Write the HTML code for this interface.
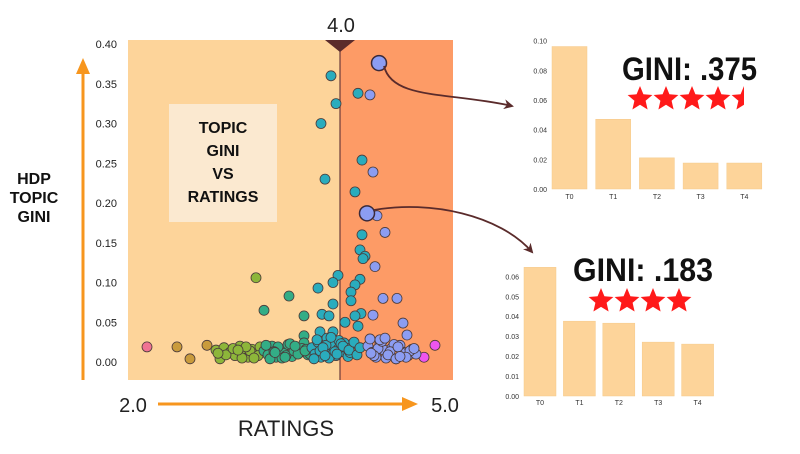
<!DOCTYPE html>
<html><head><meta charset="utf-8"><style>
html,body{margin:0;padding:0;background:#fff;width:800px;height:454px;overflow:hidden}
svg{display:block;font-family:"Liberation Sans",sans-serif}
</style></head><body>
<svg id="c" width="800" height="454" viewBox="0 0 800 454">
<defs>
<marker id="ah" markerWidth="10" markerHeight="10" refX="8" refY="5" orient="auto" markerUnits="userSpaceOnUse"><path d="M0,0 L10,5 L0,10 L3,5 z" fill="#5a2b2b"/></marker>
<marker id="oa" markerWidth="16" markerHeight="16" refX="8" refY="8" orient="auto" markerUnits="userSpaceOnUse"><path d="M0,1 L16,8 L0,15 z" fill="#f7961e"/></marker>
</defs>
<g id="main">
<rect x="128" y="40" width="212" height="340" fill="#fdd49a"/>
<rect x="340" y="40" width="113" height="340" fill="#fd9b66"/>
<line x1="340" y1="40" x2="340" y2="380" stroke="#6b3b3b" stroke-width="1.2"/>
<path d="M325,40 L355,40 L340,52 z" fill="#5a2b2b"/>
<text x="341" y="32" font-size="20" text-anchor="middle" fill="#222">4.0</text>
<rect x="169" y="104" width="108" height="118" fill="#fbe9d0"/>
<g font-size="16" font-weight="bold" text-anchor="middle" fill="#111">
<text x="223" y="133">TOPIC</text><text x="223" y="156">GINI</text><text x="223" y="179">VS</text><text x="223" y="202">RATINGS</text></g>
</g>
<g id="yticks" font-size="11" fill="#222" text-anchor="end"></g>
<g id="pts"></g>
<line x1="83" y1="380" x2="83" y2="66" stroke="#f7961e" stroke-width="3" marker-end="url(#oa)"/>
<g font-size="16" font-weight="bold" text-anchor="middle" fill="#111">
<text x="34" y="184">HDP</text><text x="34" y="203">TOPIC</text><text x="34" y="222">GINI</text></g>
<line x1="158" y1="404" x2="410" y2="404" stroke="#f7961e" stroke-width="3" marker-end="url(#oa)"/>
<text x="133" y="412" font-size="20" text-anchor="middle" fill="#222">2.0</text>
<text x="445" y="412" font-size="20" text-anchor="middle" fill="#222">5.0</text>
<text x="286" y="436" font-size="22" text-anchor="middle" fill="#222">RATINGS</text>
<path d="M384,66 C392,100 450,92 512,106" fill="none" stroke="#5a2b2b" stroke-width="1.8" marker-end="url(#ah)"/>
<path d="M374,210 C430,200 500,215 532,252" fill="none" stroke="#5a2b2b" stroke-width="1.8" marker-end="url(#ah)"/>
<g id="bar1"></g>
<g id="bar2"></g>
<text x="622" y="80" font-size="32" font-weight="bold" fill="#111" textLength="135" lengthAdjust="spacingAndGlyphs">GINI: .375</text>
<text x="573" y="281" font-size="32" font-weight="bold" fill="#111" textLength="140" lengthAdjust="spacingAndGlyphs">GINI: .183</text>
<g id="stars1"></g>
<g id="stars2"></g>
</svg>
<script>
const ratings=[2.07,2.37,2.5,2.67,3.16,3.49,3.24,3.64,3.64,3.91,3.96,3.81,3.85,3.98,3.93,3.78,3.93,3.82,3.89,3.80,3.93,4.18,4.22,4.15,4.22,4.2,4.25,4.23,4.2,4.15,4.11,4.11,4.21,4.15,4.05,4.18,4.3,4.33,4.37,4.45,4.35,4.43,4.57,4.33,4.63,4.67,4.95,4.84,
2.76,2.8,2.84,2.9,2.95,3.0,3.04,3.08,3.12,3.16,3.2,2.86,2.93,3.02,3.1,3.18,2.78,3.06,3.14,2.98,
3.24,3.28,3.32,3.36,3.4,3.44,3.48,3.52,3.56,3.6,3.64,3.68,3.3,3.38,3.46,3.54,3.62,3.7,3.26,3.34,3.42,3.5,3.58,3.66,3.35,3.45,3.55,3.65,
3.72,3.75,3.78,3.81,3.84,3.87,3.9,3.93,3.96,3.99,4.02,4.05,4.08,4.11,3.74,3.8,3.86,3.92,3.98,4.04,4.1,3.77,3.83,3.89,3.95,4.01,4.07,3.85,3.91,3.97,4.03,4.09,4.14,4.17,4.2,
4.28,4.32,4.36,4.4,4.44,4.48,4.52,4.56,4.6,4.64,4.68,4.72,4.76,4.3,4.38,4.46,4.54,4.62,4.7,4.34,4.42,4.5,4.58,4.66,4.74,4.4,4.48,4.56,4.31,4.45,4.6];
const ginis=[0.019,0.019,0.004,0.021,0.106,0.083,0.065,0.058,0.033,0.36,0.325,0.30,0.23,0.109,0.1,0.093,0.073,0.06,0.058,0.038,0.038,0.338,0.254,0.214,0.16,0.141,0.133,0.13,0.104,0.097,0.088,0.077,0.061,0.058,0.05,0.045,0.336,0.239,0.184,0.163,0.12,0.08,0.08,0.059,0.049,0.034,0.021,0.006,
0.015,0.004,0.018,0.012,0.008,0.02,0.013,0.006,0.016,0.01,0.019,0.009,0.017,0.005,0.014,0.008,0.011,0.019,0.005,0.015,
0.014,0.009,0.02,0.006,0.016,0.011,0.022,0.007,0.018,0.012,0.024,0.009,0.004,0.019,0.008,0.014,0.017,0.01,0.021,0.013,0.005,0.023,0.01,0.016,0.012,0.006,0.02,0.014,
0.018,0.01,0.025,0.006,0.015,0.03,0.011,0.02,0.008,0.027,0.013,0.019,0.007,0.022,0.004,0.014,0.021,0.009,0.016,0.024,0.012,0.028,0.018,0.005,0.013,0.023,0.017,0.008,0.031,0.01,0.02,0.015,0.025,0.009,0.018,
0.02,0.012,0.006,0.024,0.015,0.009,0.018,0.004,0.021,0.012,0.008,0.016,0.01,0.029,0.017,0.005,0.022,0.011,0.014,0.008,0.026,0.013,0.019,0.006,0.017,0.028,0.009,0.004,0.011,0.03,0.007];
const bigPoints=[[4.39,0.376],[4.27,0.187]];
const yTicks=["0.00","0.05","0.10","0.15","0.20","0.25","0.30","0.35","0.40"];
const topics=["T0","T1","T2","T3","T4"];
const bar1Values=[0.096,0.047,0.021,0.0175,0.0175];
const bar1Ticks=["0.00","0.02","0.04","0.06","0.08","0.10"];
const bar2Values=[0.0645,0.0375,0.0365,0.027,0.026];
const bar2Ticks=["0.00","0.01","0.02","0.03","0.04","0.05","0.06"];
const stars1=4.5, stars2=4;
const NS="http://www.w3.org/2000/svg";
const X=r=>140+(r-2)*100, Y=g=>362-g*795;
function el(t,a,p){const e=document.createElementNS(NS,t);for(const k in a)e.setAttribute(k,a[k]);p.appendChild(e);return e;}
function col(r){if(r<2.2)return"#f07393";if(r<2.72)return"#c99b3c";if(r<3.22)return"#8db63a";if(r<3.72)return"#33ad86";if(r<4.26)return"#2aacbd";if(r<4.8)return"#8c9df2";return"#ee55ee";}
const yt=document.getElementById('yticks');
yTicks.forEach(t=>{const e=el('text',{x:117,y:Y(+t)+4},yt);e.textContent=t;

});
const pg=document.getElementById('pts');
const order=ratings.map((r,i)=>i).sort((a,b)=>ginis[a]>0.04&&ginis[b]<=0.04?1:0);
order.forEach(i=>{const c=el('circle',{cx:X(ratings[i]),cy:Y(ginis[i]),r:5,fill:col(ratings[i]),stroke:"#4a3a3a","stroke-width":0.8},pg);

});
bigPoints.forEach(p=>{const c=el('circle',{cx:X(p[0]),cy:Y(p[1]),r:7.5,fill:"#8c9df2",stroke:"#3a2a3a","stroke-width":1.5},pg);

});
function bars(id,vals,ticks,x0,step,w,y0,pxPer,labX,labY){
const g=document.getElementById(id);
ticks.forEach(t=>{const e=el('text',{x:labX,y:y0-(+t)*pxPer+3,"font-size":7,"text-anchor":"end",fill:"#333"},g);e.textContent=t;

});
vals.forEach((v,i)=>{const h=v*pxPer;const r=el('rect',{x:x0+i*step,y:y0-h,width:w,height:h,fill:"#fdd49a",stroke:"#f5c98a","stroke-width":0.5},g);


const t=el('text',{x:x0+i*step+w/2,y:labY,"font-size":7,"text-anchor":"middle",fill:"#333"},g);t.textContent=topics[i];

});}
bars('bar1',bar1Values,bar1Ticks,552,43.7,35,189,1484,547,199);
bars('bar2',bar2Values,bar2Ticks,524,39.4,32,396,1995,519,405);
function star(g,cx,cy,R,frac){const pts=[];for(let k=0;k<10;k++){const a=-Math.PI/2+k*Math.PI/5,rr=k%2?R*0.45:R;pts.push((cx+rr*Math.cos(a)).toFixed(1)+","+(cy+rr*Math.sin(a)).toFixed(1));}
const s=el('polygon',{points:pts.join(" "),fill:"#ff1a1a"},g);
if(frac<1){const id='cl'+Math.round(cx);const cp=el('clipPath',{id:id},g);el('rect',{x:cx-R,y:cy-R,width:2*R*frac,height:2*R},cp);s.setAttribute('clip-path','url(#'+id+')');}

}
function stars(id,n,x0,cy){const g=document.getElementById(id);for(let i=0;i<Math.ceil(n);i++)star(g,x0+i*26,cy,13,Math.min(1,n-i));}
stars('stars1',stars1,640,99);
stars('stars2',stars2,601,301);
</script>
</body></html>
